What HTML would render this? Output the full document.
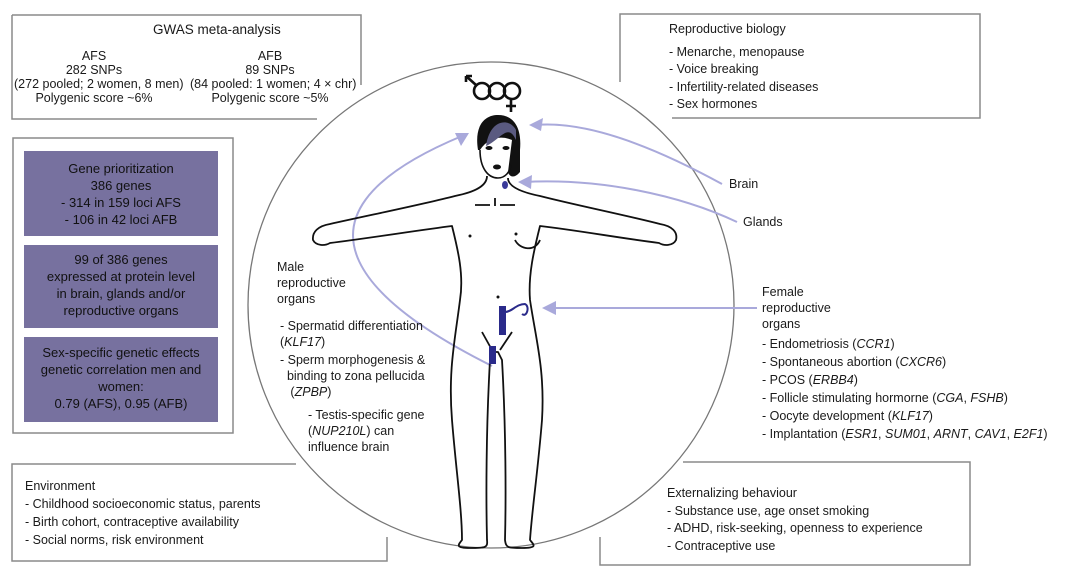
<!DOCTYPE html>
<html><head><meta charset="utf-8"><style>
html,body{margin:0;padding:0;background:#fff}
body{width:1080px;height:581px;position:relative;overflow:hidden;font-family:"Liberation Sans",Arial,sans-serif;color:#1a1a1a;font-size:12.5px}
.t{position:absolute;white-space:nowrap;line-height:16px}
.c{text-align:center}
.pb{position:absolute;left:24px;width:194px;background:#77719f;text-align:center;line-height:17px;font-size:13px;color:#111;box-sizing:border-box}
i{font-style:italic}
</style></head><body>
<svg width="1080" height="581" style="position:absolute;left:0;top:0">
<g fill="none" stroke="#8a8a8a" stroke-width="1.5">
<path d="M12,15 H361 V85 M12,15 V119 H317"/>
<rect x="13" y="138" width="220" height="295"/>
<path d="M296,464 H12 V561 H387 V537"/>
<path d="M620,82 V14 H980 V118 H672"/>
<path d="M683,462 H970 V565 H600 V537"/>
<circle cx="491" cy="305" r="243" stroke="#777" stroke-width="1.3"/>
</g>
<g fill="none" stroke="#a9a9db" stroke-width="2">
<path d="M722,184 C660,150 590,120 535,125"/>
<path d="M737,222 C680,195 600,178 524,182"/>
<path d="M757,308 H548"/>
<path d="M492,366 C380,310 260,220 462,136"/>
</g>
<g fill="#a9a9db">
<polygon points="529,125 543,118 541,131"/>
<polygon points="518,182 532,175 531,189"/>
<polygon points="542,308 556,301 556,315"/>
<polygon points="469,133 455,133 461,146"/>
</g>
<g fill="none" stroke="#111" stroke-width="2.6">
<circle cx="482" cy="91" r="8"/><circle cx="497" cy="91" r="8"/><circle cx="512" cy="91" r="8"/>
<path d="M476,85 L466,76 M466,76 h6 M466,76 v6"/>
<path d="M511,99 V112 M506,106 H516"/>
</g>
<path d="M478,150 C474,125 485,115 498,115 C514,115 522,128 520,150 L520,172 C515,178 510,178 508,172 L512,140 C500,135 488,138 480,150 Z" fill="#111"/>
<path d="M486,146 C500,140 508,122 516,140 L516,130 C510,118 490,118 486,146Z" fill="#5a5a80"/>
<path d="M480,150 C480,168 488,178 498,178 C505,178 510,172 511,165" fill="none" stroke="#111" stroke-width="1.6"/>
<ellipse cx="489" cy="148" rx="3.5" ry="2" fill="#111"/><ellipse cx="506" cy="148" rx="3.5" ry="2" fill="#111"/>
<ellipse cx="497" cy="167" rx="4" ry="2.5" fill="#111"/>
<ellipse cx="505" cy="185" rx="3" ry="4" fill="#3a3a99"/>
<g fill="none" stroke="#111" stroke-width="1.8" stroke-linejoin="round">
<path d="M487,176 C487,186 475,192 455,196 C420,205 370,215 330,224 C318,226 312,232 313,240 C316,246 325,246 330,243 C370,238 420,230 452,226 C458,250 464,275 460,300 C455,340 448,370 452,420 C456,470 462,510 462,540 C458,545 455,548 470,548 C485,548 488,548 487,540 C486,500 486,430 490,360 L494,352"/>
<path d="M508,178 C508,186 520,192 540,196 C575,205 625,215 660,224 C672,226 678,232 676,240 C673,246 664,246 659,243 C620,238 575,230 540,226 C534,250 528,275 530,300 C536,340 545,370 542,420 C538,470 532,510 530,540 C534,545 538,548 522,548 C508,548 506,548 505,540 C506,500 506,430 502,360 L498,352 L494,352"/>
<path d="M475,205 H490 M500,205 H515 M495,198 V206"/>
<path d="M515,240 C520,250 535,252 540,240"/>
<path d="M482,332 L492,350 M512,332 L500,350"/>
</g>
<circle cx="470" cy="236" r="1.5" fill="#111"/><circle cx="516" cy="234" r="1.5" fill="#111"/><circle cx="498" cy="297" r="1.5" fill="#111"/>
<rect x="499" y="306" width="7" height="29" fill="#2a2a8a"/>
<path d="M505,312 C512,312 516,304 525,304 C530,306 527,318 522,314" fill="none" stroke="#2a2a8a" stroke-width="2"/>
<rect x="489" y="346" width="7" height="18" fill="#2a2a8a"/>
</svg>

<div class="t" style="left:153px;top:22px;font-size:13.5px">GWAS meta-analysis</div>
<div class="t c" style="left:14px;top:49px;width:160px;line-height:14px;font-size:12.5px">AFS<br>282 SNPs<br>(272 pooled; 2 women, 8 men)<br>Polygenic score ~6%</div>
<div class="t c" style="left:190px;top:49px;width:160px;line-height:14px;font-size:12.5px">AFB<br>89 SNPs<br>(84 pooled: 1 women; 4 × chr)<br>Polygenic score ~5%</div>

<div class="pb" style="top:151px;height:85px;padding-top:9px">Gene prioritization<br>386 genes<br>- 314 in 159 loci AFS<br>- 106 in 42 loci AFB</div>
<div class="pb" style="top:245px;height:83px;padding-top:6px">99 of 386 genes<br>expressed at protein level<br>in brain, glands and/or<br>reproductive organs</div>
<div class="pb" style="top:337px;height:85px;padding-top:7px">Sex-specific genetic effects<br>genetic correlation men and<br>women:<br>0.79 (AFS), 0.95 (AFB)</div>

<div class="t" style="left:25px;top:477px;line-height:18px">Environment<br>- Childhood socioeconomic status, parents<br>- Birth cohort, contraceptive availability<br>- Social norms, risk environment</div>

<div class="t" style="left:669px;top:21px">Reproductive biology</div>
<div class="t" style="left:669px;top:44px;line-height:17.3px">- Menarche, menopause<br>- Voice breaking<br>- Infertility-related diseases<br>- Sex hormones</div>

<div class="t" style="left:729px;top:176px">Brain</div>
<div class="t" style="left:743px;top:214px">Glands</div>

<div class="t" style="left:277px;top:259px">Male<br>reproductive<br>organs</div>
<div class="t" style="left:280px;top:318px">- Spermatid differentiation<br>(<i>KLF17</i>)</div>
<div class="t" style="left:280px;top:352px">- Sperm morphogenesis &amp;<br>&nbsp;&nbsp;binding to zona pellucida<br>&nbsp;&nbsp;&nbsp;(<i>ZPBP</i>)</div>
<div class="t" style="left:308px;top:407px">- Testis-specific gene<br>(<i>NUP210L</i>) can<br>influence brain</div>

<div class="t" style="left:762px;top:284px">Female<br>reproductive<br>organs</div>
<div class="t" style="left:762px;top:335px;line-height:18px">- Endometriosis (<i>CCR1</i>)<br>- Spontaneous abortion (<i>CXCR6</i>)<br>- PCOS (<i>ERBB4</i>)<br>- Follicle stimulating hormorne (<i>CGA</i>, <i>FSHB</i>)<br>- Oocyte development (<i>KLF17</i>)<br>- Implantation (<i>ESR1</i>, <i>SUM01</i>, <i>ARNT</i>, <i>CAV1</i>, <i>E2F1</i>)</div>

<div class="t" style="left:667px;top:485px;line-height:17.5px">Externalizing behaviour<br>- Substance use, age onset smoking<br>- ADHD, risk-seeking, openness to experience<br>- Contraceptive use</div>
</body></html>
